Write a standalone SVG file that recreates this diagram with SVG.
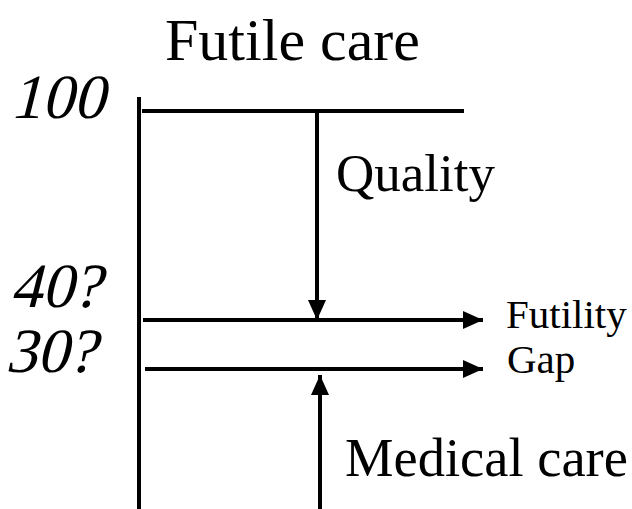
<svg xmlns="http://www.w3.org/2000/svg" width="632" height="509" viewBox="0 0 632 509">
<style>
.t{font-family:"Liberation Serif","DejaVu Serif",serif;fill:#000}
.ln{stroke:#000;stroke-width:4;fill:none}
</style>
<defs>
<marker id="ah" viewBox="0 0 20 18" refX="20" refY="9" markerWidth="20" markerHeight="18" markerUnits="userSpaceOnUse" orient="auto">
<path d="M0,0 L20,9 L0,18 Z" fill="#000"/>
</marker>
</defs>
<rect width="632" height="509" fill="#fff"/>
<g id="title"><text class="t" x="165" y="60" font-size="60">Futile care</text></g>
<g id="axis-labels">
<text class="t" transform="translate(10,118) skewX(-14)" font-size="63">100</text>
<text class="t" transform="translate(10,307) skewX(-14)" font-size="63">40?</text>
<text class="t" transform="translate(5,372) skewX(-14)" font-size="63">30?</text>
</g>
<g id="connectors">
<line class="ln" x1="139" y1="97" x2="139" y2="509"/>
<line class="ln" x1="142" y1="111" x2="464" y2="111"/>
<line class="ln" x1="317" y1="111" x2="317" y2="320" marker-end="url(#ah)"/>
<line class="ln" x1="143" y1="320" x2="483" y2="320" marker-end="url(#ah)"/>
<line class="ln" x1="145" y1="369" x2="483" y2="369" marker-end="url(#ah)"/>
<line class="ln" x1="320" y1="509" x2="320" y2="375" marker-end="url(#ah)"/>
</g>
<g id="quality"><text class="t" x="336" y="191" font-size="53">Quality</text></g>
<g id="futility"><text class="t" x="506" y="328" font-size="41">Futility</text></g>
<g id="gap"><text class="t" x="507" y="373" font-size="41">Gap</text></g>
<g id="medical"><text class="t" x="345" y="476" font-size="54.5">Medical care</text></g>
</svg>
